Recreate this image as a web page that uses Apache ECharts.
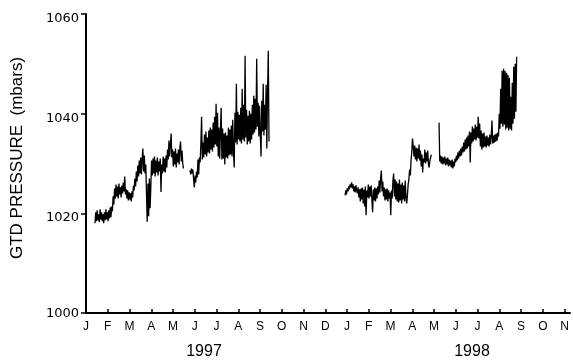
<!DOCTYPE html>
<html>
<head>
<meta charset="utf-8">
<script src="https://cdn.jsdelivr.net/npm/echarts@6/dist/echarts.min.js"></script>
<style>
html,body{margin:0;padding:0;background:#fff;}
#c{width:573px;height:360px;}
</style>
</head>
<body>
<div id="c"></div>
<script>
// Month tick labels (Jan 1997 .. Nov 1998), x unit = months since 1 Jan 1997
var monthLabels = ['J','F','M','A','M','J','J','A','S','O','N','D','J','F','M','A','M','J','J','A','S','O','N'];
var yearLabels = ['1997', '1998'];
var yTicks = [1000, 1020, 1040, 1060];
var STEP = 1 / 30; // roughly daily readings, in months

// Segment start times (months since Jan 1997)
var startA = 0.414, startB = 4.78, startC = 11.91, startD = 16.23;

// GTD pressure (mbar) readings
var pressA = [
  1018.0,1020.2,1018.4,1020.6,1018.6,1019.8,1018.2,1020.8,1018.8,1020.2,1018.4,1019.8,1018.0,
  1020.2,1018.6,1020.8,1018.8,1020.2,1018.4,1020.6,1019.0,1021.2,1019.2,1021.4,
  1020.4,1023.4,1021.8,1025.0,
  1023.0,1025.8,1023.4,1025.4,1023.0,1026.0,1023.8,1025.2,1023.2,1025.6,1024.0,1026.2,1024.4,1027.4,
  1023.8,1024.8,1023.0,1024.6,1022.6,1024.2,1022.8,1024.0,1022.4,1024.4,1023.2,
  1025.6,1024.6,1027.0,1025.4,1028.4,1026.4,1029.6,
  1027.4,1030.6,1028.0,1031.2,1027.8,1030.8,1033.0,1028.4,1031.6,1028.0,
  1029.8,1024.0,1018.3,1026.0,1019.4,1027.0,1021.0,1025.4,1030.6,
  1027.6,1031.0,1028.0,1031.4,1027.4,1030.6,1028.2,1031.2,1027.6,1030.4,1028.4,
  1031.0,1024.3,1029.8,1028.0,1031.4,1028.4,1031.0,1028.2,1031.6,1029.2,
  1032.8,1030.8,1034.6,1031.4,1033.8,1036.0,1031.2,
  1032.8,1029.4,1032.4,1029.8,1033.0,1029.2,1032.0,
  1030.2,1032.8,1029.8,1033.2,1034.4,1030.4,1032.6,1030.0,1029.0];
var pressB = [
  1028.6,1027.8,1029.0,1028.0,1028.8,
  1026.8,1025.2,1027.6,1026.2,1028.4,
  1027.2,1030.8,1027.8,1031.2,
  1030.2,1033.8,1039.4,1030.8,1034.2,
  1031.2,1035.8,1031.8,1036.4,1031.4,1035.2,1032.2,
  1036.6,1032.0,1037.2,1032.8,1036.8,1032.4,1038.2,
  1033.2,1039.4,1033.8,1042.0,1033.4,1040.2,
  1031.4,1037.2,1031.0,1036.6,1041.2,1030.8,1037.0,
  1031.0,1036.0,1029.8,1036.2,1031.2,1035.6,
  1031.0,1037.2,1031.6,1036.8,1031.8,1037.6,1031.4,
  1038.8,1032.2,1029.2,1040.2,
  1034.2,1046.0,1033.8,1040.4,1034.8,1039.8,1034.4,
  1041.2,1034.0,1045.0,1034.8,1041.8,1034.4,1051.6,1035.2,1040.8,
  1033.8,1039.6,1034.4,1040.6,1034.0,1040.0,1034.8,
  1041.8,1035.8,1043.6,1036.2,1043.0,1036.8,1051.0,1037.4,
  1042.2,1035.4,1041.6,1035.8,1031.4,1042.6,1036.4,1046.0,1035.6,1041.8,
  1036.8,1045.8,1033.0,1044.6,1052.6,1034.4];
var pressC = [
  1023.6,1024.6,1023.8,1025.0,1024.4,1025.4,1024.8,1025.8,1025.2,1026.2,
  1025.0,1025.8,1024.4,1025.4,1024.2,1025.6,1024.6,
  1024.0,1025.2,1023.2,1024.8,
  1022.4,1025.0,1022.8,1025.2,1022.0,1024.8,1021.4,1025.4,1019.6,1024.6,
  1023.2,1025.8,1023.0,1025.4,1023.4,1025.6,1022.8,
  1020.2,
  1024.8,1022.6,1025.2,1022.4,1025.0,1023.0,1025.4,
  1023.8,1026.6,1024.2,1027.0,1028.6,1024.4,1026.4,
  1023.4,1025.2,1022.6,1024.8,1022.8,1025.0,1022.4,1024.6,1023.0,1024.2,
  1019.6,
  1024.6,1023.0,1026.6,1028.0,1023.4,1026.8,1022.8,
  1026.4,1022.4,1026.0,1022.2,1026.8,1022.6,1025.8,1022.0,1026.2,1022.8,1025.6,1022.4,1026.6,1023.2,1022.0,
  1023.6,1025.8,1026.8,1028.8,1027.6,1030.6,
  1032.4,1035.0,1033.4,
  1031.4,1033.6,1030.8,1033.2,1030.4,1033.0,1031.0,1033.8,1030.6,1032.6,
  1029.4,1031.8,1028.2,1031.0,
  1030.2,1032.8,1030.0,1032.2,1030.4,1032.6,1029.8,
  1029.2,1030.6,1031.2,1031.8];
var pressD = [
  1038.2,
  1030.4,1031.6,1030.0,1031.4,1029.8,1031.2,1030.0,1031.4,1029.6,1031.0,1029.8,1031.2,1029.4,1030.8,1029.6,
  1030.6,1029.2,1030.8,1029.0,1030.4,1029.4,1031.0,
  1030.2,1031.6,1030.6,1032.2,1031.0,1032.6,1031.4,1033.0,1031.6,1033.4,1032.2,
  1034.2,1032.4,1034.8,1032.8,1035.2,1033.0,1035.6,1033.4,1036.4,
  1030.2,
  1036.2,1034.0,1037.4,1034.4,1037.0,1034.8,1037.8,1034.6,1037.4,1035.2,1039.4,1035.0,1038.0,
  1033.4,1036.6,1032.8,1036.0,1033.2,1036.2,1033.4,
  1035.4,1033.2,1035.6,1033.6,1035.2,1033.4,1035.8,1033.8,1035.4,1038.6,1034.0,1035.6,1034.2,1035.8,1034.4,1036.0,1034.6,1036.2,
  1035.4,1040.0,1037.0,1045.0,1038.0,
  1048.6,1037.4,1049.0,1037.8,1048.6,1036.8,1048.2,1037.2,1047.8,1036.6,1047.2,
  1037.0,1043.4,1036.6,1046.2,1038.0,
  1049.4,1039.0,1050.0,1040.4,1051.4];

function toPairs(start, vals){
  return vals.map(function(v,i){ return [start + i*STEP, v]; });
}
var segments = [[startA,pressA],[startB,pressB],[startC,pressC],[startD,pressD]];

var font = 'Liberation Sans, Arial, sans-serif';
var numFont = 'DejaVu Sans, sans-serif';
var chart = echarts.init(document.getElementById('c'), null, {renderer:'canvas'});
chart.setOption({
  animation:false,
  backgroundColor:'#fff',
  grid:{left:86, right:3, top:14, bottom:47},
  xAxis:{
    type:'value', min:0, max:22.25, interval:1,
    axisLine:{show:true, lineStyle:{color:'#000', width:2}},
    axisTick:{show:true, inside:true, length:4, lineStyle:{color:'#000', width:1.5}},
    splitLine:{show:false},
    axisLabel:{
      margin:8, color:'#000', fontSize:12, fontFamily:font,
      showMaxLabel:false,
      formatter:function(v){ var i=Math.round(v); return (Math.abs(v-i)<1e-6 && monthLabels[i]) ? monthLabels[i] : ''; }
    }
  },
  yAxis:{
    type:'value', min:yTicks[0], max:yTicks[yTicks.length-1], interval:20,
    axisLine:{show:true, lineStyle:{color:'#000', width:2}},
    axisTick:{show:true, inside:false, length:5, lineStyle:{color:'#000', width:1.5}},
    splitLine:{show:false},
    axisLabel:{
      margin:7, color:'#000', fontSize:13, fontFamily:numFont,
      formatter:function(v){ return v===yTicks[0] ? '{b|'+v+'}' : '{a|'+v+'}'; },
      rich:{
        a:{fontSize:13, fontFamily:numFont, color:'#000', padding:[9,0,0,0]},
        b:{fontSize:13, fontFamily:numFont, color:'#000', padding:[1,0,0,0]}
      }
    }
  },
  graphic:[
    {type:'text', x:17, y:158, rotation:Math.PI/2,
     style:{text:'GTD PRESSURE  (mbars)', font:'17px '+font, fill:'#000', textAlign:'center', textVerticalAlign:'middle'}},
    {type:'text', x:204, y:352, style:{text:yearLabels[0], font:'16px '+font, fill:'#000', textAlign:'center', textVerticalAlign:'middle'}},
    {type:'text', x:472, y:352, style:{text:yearLabels[1], font:'16px '+font, fill:'#000', textAlign:'center', textVerticalAlign:'middle'}}
  ],
  series: segments.map(function(s){
    return {type:'line', data:toPairs(s[0], s[1]), showSymbol:false, symbol:'none',
      lineStyle:{color:'#000', width:1.3}, silent:true};
  })
});
</script>
</body>
</html>
